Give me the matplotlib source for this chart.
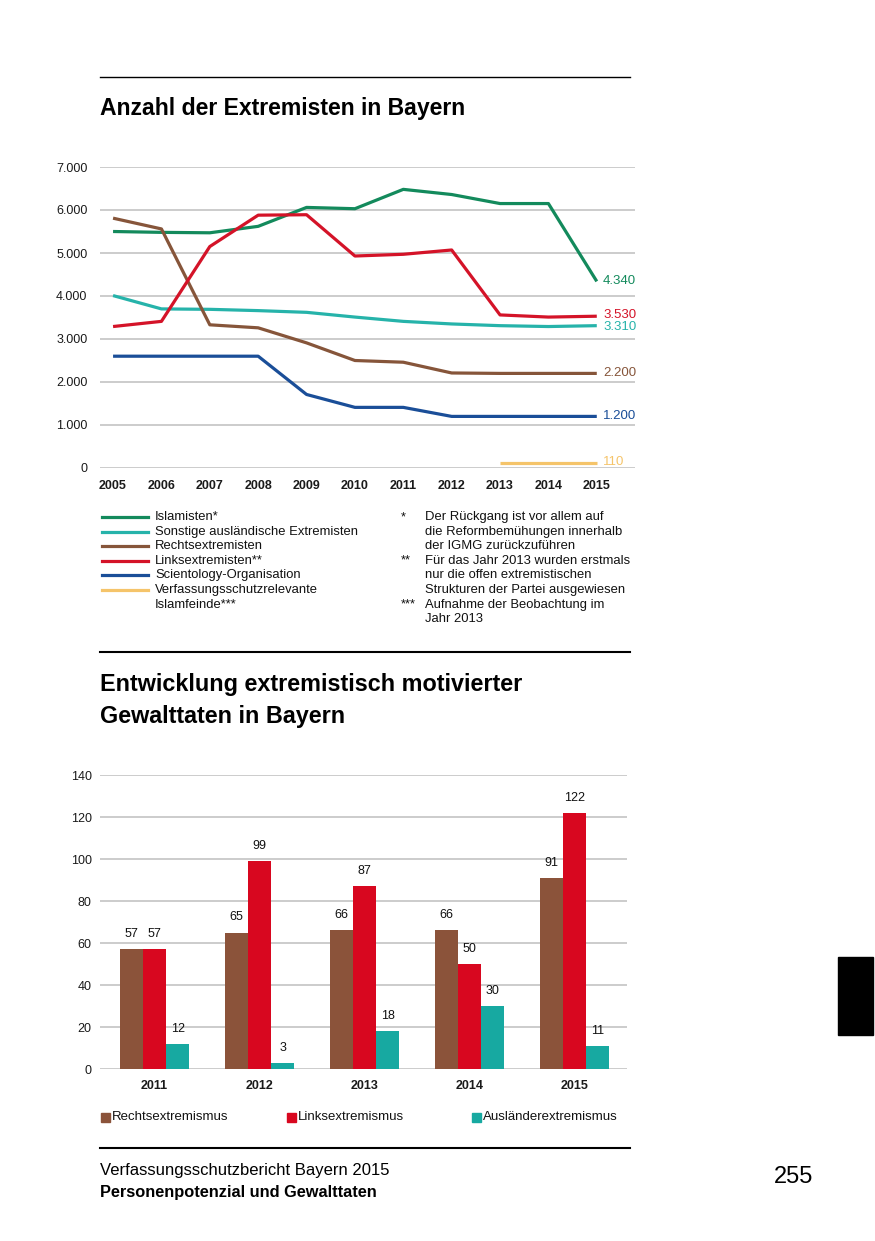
import matplotlib
matplotlib.use("Agg")
import matplotlib.pyplot as plt
import numpy as np

plt.rcParams['font.family'] = ['Liberation Sans', 'DejaVu Sans']

W, H = 875, 1241

# --- data: Anzahl der Extremisten ---
years = [2005, 2006, 2007, 2008, 2009, 2010, 2011, 2012, 2013, 2014, 2015]
islamisten = [5500, 5480, 5470, 5620, 6060, 6030, 6480, 6360, 6150, 6150, 4340]
sonstige = [4010, 3700, 3690, 3660, 3620, 3510, 3410, 3350, 3310, 3290, 3310]
rechts = [5810, 5560, 3330, 3260, 2910, 2500, 2460, 2210, 2200, 2200, 2200]
links = [3290, 3410, 5150, 5880, 5890, 4930, 4970, 5070, 3560, 3510, 3530]
scientology = [2600, 2600, 2600, 2600, 1710, 1410, 1410, 1200, 1200, 1200, 1200]
islamfeinde_years = [2013, 2014, 2015]
islamfeinde = [110, 110, 110]

line_labels = ['Islamisten*', 'Sonstige ausländische Extremisten', 'Rechtsextremisten',
               'Linksextremisten**', 'Scientology-Organisation',
               'Verfassungsschutzrelevante', 'Islamfeinde***']
line_colors = ['#138a5c', '#26b3aa', '#86553a', '#d41328', '#1a4e98', '#f5c46a']
end_labels = ['4.340', '3.310', '2.200', '3.530', '1.200', '110']

footnote_marks = ['*', '', '', '**', '', '', '***', '']
footnote_lines = ['Der Rückgang ist vor allem auf', 'die Reformbemühungen innerhalb',
                  'der IGMG zurückzuführen', 'Für das Jahr 2013 wurden erstmals',
                  'nur die offen extremistischen', 'Strukturen der Partei ausgewiesen',
                  'Aufnahme der Beobachtung im', 'Jahr 2013']

# --- data: Gewalttaten ---
bar_years = ['2011', '2012', '2013', '2014', '2015']
rechtsext = [57, 65, 66, 66, 91]
linksext = [57, 99, 87, 50, 122]
auslaender = [12, 3, 18, 30, 11]
bar_labels = ['Rechtsextremismus', 'Linksextremismus', 'Ausländerextremismus']
bar_colors = ['#8b533a', '#d8071f', '#17a9a1']


def box(x0, y0, x1, y1):
    return [x0 / W, 1 - y1 / H, (x1 - x0) / W, (y1 - y0) / H]


def ftext(x, y, s, **kw):
    fig.text(x / W, 1 - y / H, s, **kw)


def hline(x0, x1, y, lw=1.0):
    fig.add_artist(plt.Line2D([x0 / W, x1 / W], [1 - y / H, 1 - y / H], color='black', lw=lw))


fig = plt.figure(figsize=(W / 100, H / 100), dpi=100)

# rules and titles
hline(100, 630, 77, 1.0)
ftext(100, 109, 'Anzahl der Extremisten in Bayern', fontsize=16.6, fontweight='bold', va='center')

# ---- line chart ----
ax = fig.add_axes(box(100, 167, 635, 468))
series = [islamisten, sonstige, rechts, links, scientology]
for vals, c in zip(series, line_colors[:5]):
    ax.plot(years, vals, color=c, lw=2.3, solid_capstyle='butt', clip_on=False, zorder=3)
ax.plot(islamfeinde_years, islamfeinde, color=line_colors[5], lw=2.3, solid_capstyle='butt',
        clip_on=False, zorder=3)
ax.set_xlim(2004.73, 2015.79)
ax.set_ylim(0, 7000)
ax.set_yticks(range(0, 7001, 1000))
ax.set_yticklabels(['0', '1.000', '2.000', '3.000', '4.000', '5.000', '6.000', '7.000'])
ax.set_xticks(years)
ax.set_xticklabels([str(y) for y in years], fontweight='bold')
ax.tick_params(length=0, labelsize=9, colors='#1a1a1a', pad=9)
ax.tick_params(axis='y', pad=9)
ax.grid(axis='y', color='#c8c8c8', lw=1.3)
for s in ax.spines.values():
    s.set_visible(False)

end_vals = [islamisten[-1], sonstige[-1], rechts[-1], links[-1], scientology[-1], islamfeinde[-1]]
offsets = [0, -1, 0, 1, 0, 1]
for v, lab, c, off in zip(end_vals, end_labels, line_colors, offsets):
    ax.annotate(lab, (2015, v), xytext=(4.5, off), textcoords='offset points',
                color=c, fontsize=9.5, va='center', ha='left', annotation_clip=False)

# legend for line chart
row_y = [517 + i * 14.6 for i in range(8)]
for y, c in zip(row_y, line_colors):
    fig.add_artist(plt.Line2D([102 / W, 148 / W], [1 - y / H, 1 - y / H], color=c, lw=2.3))
for y, lab in zip(row_y, line_labels):
    ftext(155, y, lab, fontsize=9.4, va='center', color='#111111')

for y, mark, txt in zip(row_y, footnote_marks, footnote_lines):
    if mark:
        ftext(401, y, mark, fontsize=9.4, va='center', color='#111111')
    ftext(425, y, txt, fontsize=9.4, va='center', color='#111111')

# ---- second section ----
hline(100, 630, 652, 1.5)
ftext(100, 685, 'Entwicklung extremistisch motivierter', fontsize=16.8, fontweight='bold', va='center')
ftext(100, 716, 'Gewalttaten in Bayern', fontsize=16.8, fontweight='bold', va='center')

bx = fig.add_axes(box(100, 775, 627, 1069))
x = np.arange(len(bar_years))
bw = 0.22
for i, (vals, c) in enumerate(zip([rechtsext, linksext, auslaender], bar_colors)):
    pos = x + (i - 1) * bw
    bx.bar(pos, vals, width=bw, color=c, zorder=3, clip_on=False)
    for p, v in zip(pos, vals):
        bx.annotate(str(v), (p, v), xytext=(0, 6.5), textcoords='offset points',
                    ha='center', va='bottom', fontsize=9, color='#111111')
bx.set_xlim(-0.52, 4.5)
bx.set_ylim(0, 140)
bx.set_yticks(range(0, 141, 20))
bx.set_xticks(x)
bx.set_xticklabels(bar_years, fontweight='bold')
bx.tick_params(length=0, labelsize=9, colors='#1a1a1a', pad=8)
bx.tick_params(axis='y', pad=6)
bx.grid(axis='y', color='#c8c8c8', lw=1.3)
for s in bx.spines.values():
    s.set_visible(False)

# bar legend
for xs, lab, c in zip([101, 287, 472], bar_labels, bar_colors):
    fig.add_artist(plt.Rectangle((xs / W, 1 - 1121.5 / H), 8.5 / W, 8.5 / H, color=c))
    ftext(xs + 11, 1117, lab, fontsize=9.5, va='center', color='#111111')

# footer
hline(100, 630, 1148, 1.5)
ftext(100, 1171, 'Verfassungsschutzbericht Bayern 2015', fontsize=12, va='center')
ftext(100, 1192, 'Personenpotenzial und Gewalttaten', fontsize=11.8, fontweight='bold', va='center')
ftext(774, 1177, '255', fontsize=17, va='center')
fig.add_artist(plt.Rectangle((838 / W, 1 - 1035 / H), 35 / W, 78 / H, color='black'))

fig.savefig('out.png', dpi=100)
